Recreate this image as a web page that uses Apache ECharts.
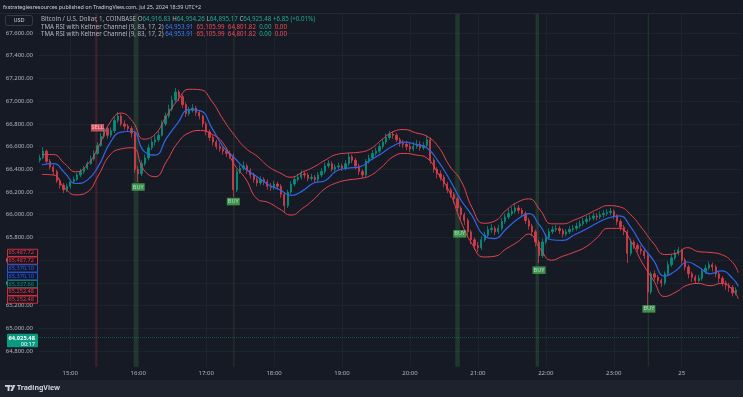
<!DOCTYPE html>
<html>
<head>
<meta charset="utf-8">
<script src="https://cdn.jsdelivr.net/npm/echarts@6/dist/echarts.min.js"></script>
<style>
  html, body { margin: 0; padding: 0; background: #161a25; }
  #chart { width: 743px; height: 397px; }
</style>
</head>
<body>
<div id="chart"></div>
<script>
const candleStart = '14:33'
const candleStep = 3
const firstOpen = 66480

const closes = [
  66500,66560,66470,66420,66380,66300,66260,66220,66250,66290,
  66310,66350,66380,66410,66450,66490,66540,66610,66690,66760,
  66700,66740,66830,66870,66800,66780,66760,66720,66400,66360,
  66450,66500,66590,66640,66660,66700,66800,66870,66930,67010,
  67080,67040,66970,66890,66920,66940,66900,66870,66800,66730,
  66680,66640,66600,66580,66560,66540,66520,66220,66380,66410,
  66430,66390,66350,66310,66280,66310,66290,66250,66240,66270,
  66250,66180,66080,66200,66270,66310,66330,66360,66350,66320,
  66330,66310,66350,66380,66430,66450,66400,66420,66430,66410,
  66450,66510,66480,66430,66380,66350,66470,66500,66540,66560,
  66600,66640,66680,66710,66700,66660,66630,66620,66600,66580,
  66600,66620,66590,66610,66660,66480,66400,66360,66330,66270,
  66220,66180,66140,66060,66000,65950,65850,65780,65730,65710,
  65780,65820,65870,65880,65850,65880,65940,65980,66010,66030,
  66060,66040,66010,65950,65900,65850,65760,65640,65760,65800,
  65850,65870,65880,65860,65830,65850,65870,65880,65900,65920,
  65940,65960,65970,65990,65980,66000,66010,66020,66030,65990,
  65940,65890,65850,65660,65760,65730,65700,65680,65640,65320,
  65480,65450,65420,65400,65480,65560,65620,65660,65690,65600,
  65540,65480,65450,65420,65440,65500,65530,65560,65540,65480,
  65440,65400,65380,65360,65310,65338
]
const highs = [
  66530,66595,66575,66490,66440,66395,66320,66280,66275,66310,
  66335,66370,66405,66430,66470,66520,66570,66640,66720,66800,
  66780,66770,66860,66905,66890,66830,66800,66780,66740,66430,
  66480,66530,66620,66670,66700,66740,66830,66900,66970,67050,
  67116,67100,67060,66990,66950,66975,66960,66920,66880,66820,
  66750,66700,66660,66630,66600,66580,66565,66540,66400,66440,
  66470,66450,66410,66370,66330,66340,66330,66310,66280,66300,
  66290,66270,66200,66220,66295,66340,66360,66390,66380,66370,
  66360,66350,66375,66410,66460,66480,66470,66445,66460,66450,
  66480,66543,66530,66500,66450,66400,66490,66530,66570,66590,
  66630,66670,66715,66740,66735,66720,66680,66660,66650,66630,
  66640,66660,66650,66640,66700,66680,66500,66420,66390,66350,
  66290,66240,66200,66160,66080,66020,65970,65870,65800,65760,
  65810,65850,65900,65920,65900,65910,65970,66010,66050,66070,
  66103,66085,66060,66030,65970,65920,65870,65780,65790,65830,
  65880,65900,65910,65900,65880,65875,65900,65910,65930,65950,
  65970,65990,66000,66020,66015,66030,66040,66050,66059,66045,
  66005,65960,65910,65870,65790,65780,65750,65730,65700,65660,
  65500,65510,65470,65440,65500,65590,65650,65690,65716,65700,
  65620,65560,65500,65470,65470,65530,65560,65590,65580,65560,
  65500,65460,65420,65400,65380,65360
]
const lows = [
  66460,66490,66450,66400,66350,66280,66230,66190,66200,66230,
  66270,66300,66330,66360,66395,66440,66475,66530,66600,66670,
  66670,66680,66720,66810,66780,66750,66730,66680,66370,66288,
  66340,66430,66480,66570,66610,66640,66690,66780,66850,66910,
  66990,67000,66940,66860,66870,66900,66870,66840,66770,66700,
  66650,66610,66575,66555,66530,66510,66490,66156,66200,66360,
  66390,66360,66320,66280,66250,66260,66260,66220,66210,66220,
  66220,66150,66015,66060,66180,66250,66290,66310,66320,66295,
  66300,66285,66290,66330,66360,66410,66380,66380,66400,66385,
  66390,66430,66455,66400,66350,66320,66330,66450,66480,66520,
  66540,66580,66620,66660,66670,66640,66600,66590,66570,66555,
  66560,66580,66565,66570,66590,66450,66370,66320,66300,66240,
  66190,66150,66100,66030,65960,65910,65810,65740,65690,65672,
  65690,65760,65800,65840,65820,65830,65860,65920,65960,65990,
  66010,66010,65980,65920,65870,65810,65720,65575,65620,65740,
  65780,65830,65850,65830,65800,65810,65830,65850,65860,65880,
  65900,65920,65940,65950,65950,65960,65975,65990,65995,65960,
  65910,65860,65820,65575,65640,65700,65670,65650,65610,65187,
  65300,65420,65390,65364,65380,65460,65540,65600,65640,65570,
  65510,65440,65410,65390,65400,65420,65480,65510,65500,65450,
  65400,65370,65340,65320,65280,65290
]

// Keltner channel lines, one reading every 10 min from 14:35, last one at 00:50
const bandStart = '14:35'
const bandStep = 10
const bandEnd = '00:50'
const kcMiddle = [
  66440,66450,66370,66275,66305,66430,66630,66728,66735,66560,
  66525,66675,66810,66925,66915,66765,66600,66500,66400,66335,
  66265,66220,66170,66210,66280,66300,66385,66410,66420,66480,
  66540,66605,66640,66620,66587,66470,66310,66130,65990,65820,
  65790,65875,65960,66010,65900,65780,65775,65821,65870,65925,
  65971,65990,65890,65730,65600,65460,65510,65584,65540,65480,
  65505,65440,65370
]
const kcUpper = [
  66530,66530,66450,66378,66440,66600,66810,66895,66822,66665,
  66710,66870,67010,67105,67100,67000,66840,66700,66585,66515,
  66425,66370,66330,66375,66420,66480,66530,66543,66550,66580,
  66660,66730,66750,66722,66690,66600,66430,66300,66060,65925,
  65945,66040,66110,66140,66041,65920,65920,65953,65995,66045,
  66080,66070,66000,65880,65750,65650,65660,65710,65675,65668,
  65650,65580,65490
]
const kcLower = [
  66355,66350,66235,66175,66200,66350,66525,66580,66590,66394,
  66335,66470,66635,66722,66742,66710,66631,66440,66315,66140,
  66108,66050,65997,66055,66135,66230,66280,66306,66318,66345,
  66420,66510,66540,66527,66499,66360,66200,65940,65740,65628,
  65635,65700,65760,65830,65700,65600,65635,65670,65715,65795,
  65880,65880,65770,65580,65425,65280,65320,65380,65395,65375,
  65395,65340,65260
]

// signal labels and their background columns
const signalTimes = ['15:24', '16:00', '17:24', '20:44', '21:54', '23:31']
const signalPrices = [66766, 66244, 66116, 65832, 65512, 65171]
const signalTypes = ['SELL', 'BUY', 'BUY', 'BUY', 'BUY', 'BUY']
const columnFrom = ['15:22', '15:56', '17:24', '20:40', '21:51', '23:30']
const columnTo = ['15:24', '16:00', '17:25', '20:44', '21:54', '23:31']

const yTicks = [64800,65000,65200,65400,65600,65800,66000,66200,66400,66600,66800,67000,67200,67400,67600]
const xTicks = ['15:00','16:00','17:00','18:00','19:00','20:00','21:00','22:00','23:00','00:00']

// price tags on the axis (value, colour) and last price
const axisTags = [
  [65487.72, '#f23645'], [65487.72, '#f23645'],
  [65370.10, '#2962ff'], [65370.10, '#2962ff'],
  [65337.66, '#089981'],
  [65252.48, '#f23645'], [65252.48, '#f23645']
]
const lastPrice = 64925.48
const countdown = '00:17'

const headerText = 'fxstrategiesresources published on TradingView.com, Jul 25, 2024 18:39 UTC+2'
const symbolName = 'Bitcoin / U.S. Dollar, 1, COINBASE'
const ohlcLegend = [['O', '64,916.83'], ['H', '64,954.26'], ['L', '64,895.17'], ['C', '64,925.48']]
const changeText = '+6.85 (+0.01%)'
const studyName = 'TMA RSI with Keltner Channel (9, 83, 17, 2)'
const studyValues = [['64,953.91', 'b'], ['65,105.99', 'r'], ['64,801.82', 'r'], ['0.00', 'v'], ['0.00', 'r']]

// minutes after 14:00 on the 24th
const toMin = s => {
  const [h, m] = s.split(':').map(Number)
  return (h < 12 ? h + 24 : h) * 60 + m - 14 * 60
}
const fmtPrice = v => v.toFixed(2).replace(/\B(?=(\d{3})+(?!\d))/g, ',')

const FONT = '"Noto Sans", "Liberation Sans", sans-serif'
const GREEN = '#089981'
const RED = '#f23645'
const TXT = '#b2b5be'

const t0 = toMin(candleStart)
const candleData = closes.map((c, i) => [t0 + i * candleStep, i === 0 ? firstOpen : closes[i - 1], c, lows[i], highs[i]])

const b0 = toMin(bandStart)
const bandT = kcMiddle.map((_, i) => i === kcMiddle.length - 1 ? toMin(bandEnd) : b0 + i * bandStep)
const line = arr => arr.map((v, i) => [bandT[i], v])

const signalData = signalTimes.map((t, i) => {
  const sell = signalTypes[i] === 'SELL'
  return {
    name: signalTypes[i],
    value: [toMin(t), signalPrices[i]],
    itemStyle: { color: sell ? '#f0606e' : '#4caf50' },
    label: { color: sell ? '#ffe3e6' : '#c4ecff' }
  }
})

const columns = columnFrom.map((f, i) => [
  { xAxis: toMin(f), itemStyle: { color: signalTypes[i] === 'SELL' ? 'rgba(242,54,69,0.2)' : 'rgba(76,175,80,0.2)' } },
  { xAxis: toMin(columnTo[i]) }
])

const chart = echarts.init(document.getElementById('chart'))

chart.setOption({
  animation: false,
  backgroundColor: '#161a25',
  textStyle: { fontFamily: FONT },
  grid: { left: 38, right: 3, top: 13.5, bottom: 30.3 },
  xAxis: {
    type: 'value',
    min: 31.5,
    max: 651.5,
    axisLine: { show: false },
    axisTick: { show: false, customValues: xTicks.map(toMin) },
    splitLine: { show: true, lineStyle: { color: '#1e222d', width: 1 } },
    axisLabel: {
      customValues: xTicks.map(toMin),
      color: TXT,
      fontSize: 6,
      margin: 4,
      formatter: v => {
        const h = Math.floor(v / 60) + 14
        return h === 24 ? '25' : String(h).padStart(2, '0') + ':00'
      }
    }
  },
  yAxis: {
    type: 'value',
    position: 'left',
    min: 64662,
    max: 67772,
    axisLine: { show: false },
    axisTick: { show: false, customValues: yTicks },
    splitLine: { show: true, lineStyle: { color: '#1e222d', width: 1 } },
    axisLabel: { customValues: yTicks, color: TXT, fontSize: 6, margin: 5, formatter: fmtPrice }
  },
  series: [
    {
      type: 'candlestick',
      data: candleData,
      encode: { x: 0, y: [1, 2, 3, 4] },
      barWidth: 1.8,
      itemStyle: { color: GREEN, color0: '#e2404e', borderColor: GREEN, borderColor0: '#e2404e', borderWidth: 0.8, opacity: 0.9 },
      markArea: { silent: true, data: columns },
      markLine: {
        silent: true,
        symbol: ['none', 'none'],
        label: { show: false },
        lineStyle: { color: 'rgba(8,153,129,0.45)', type: 'dotted', width: 1 },
        data: [{ yAxis: lastPrice }]
      }
    },
    {
      type: 'line', data: line(kcUpper), smooth: 0.5, showSymbol: false,
      lineStyle: { color: '#e5434f', width: 1 }
    },
    {
      type: 'line', data: line(kcMiddle), smooth: 0.5, showSymbol: false,
      lineStyle: { color: '#2e66e8', width: 1.2 }
    },
    {
      type: 'line', data: line(kcLower), smooth: 0.5, showSymbol: false,
      lineStyle: { color: '#e5434f', width: 1 }
    },
    {
      type: 'scatter',
      data: signalData,
      symbol: 'rect',
      symbolSize: [13, 7.5],
      z: 5,
      label: { show: true, position: 'inside', formatter: '{b}', fontSize: 5.6, fontFamily: FONT }
    }
  ]
})

// header, legend and axis tags drawn on top
const tok = (fill) => ({ fill, fontSize: 6.2, fontFamily: FONT })
const legend1 = '{g|' + symbolName + '} ' +
  ohlcLegend.map(p => '{g|' + p[0] + '}{v|' + p[1] + '}').join(' ') + ' {v|' + changeText + '}'
const legend2 = '{g|' + studyName + '} ' + studyValues.map(p => '{' + p[1] + '|' + p[0] + '}').join('  ')
const rich = { g: tok(TXT), v: tok('#22ab94'), b: tok('#3b7cf5'), r: tok('#f04b57') }

const graphics = [
  { type: 'rect', z: 50, shape: { x: 0, y: 380, width: 743, height: 17 }, style: { fill: '#1e222d' } },
  { type: 'line', z: 50, shape: { x1: 0, y1: 13.5, x2: 743, y2: 13.5 }, style: { stroke: '#232734', lineWidth: 1 } },
  { type: 'text', z: 50, style: { x: 3, y: 7, text: headerText, fill: '#d1d4dc', fontSize: 5.4, fontFamily: FONT, verticalAlign: 'middle' } },
  { type: 'text', z: 50, style: { x: 41, y: 19.5, text: legend1, rich, fontSize: 6.2, fontFamily: FONT, verticalAlign: 'middle' } },
  { type: 'text', z: 50, style: { x: 41, y: 27, text: legend2, rich, fontSize: 6.2, fontFamily: FONT, verticalAlign: 'middle' } },
  { type: 'text', z: 50, style: { x: 41, y: 34.5, text: legend2, rich, fontSize: 6.2, fontFamily: FONT, verticalAlign: 'middle' } },
  { type: 'rect', z: 50, shape: { x: 5.5, y: 15.5, width: 27, height: 10, r: 2 }, style: { fill: '#161a25', stroke: '#363a45', lineWidth: 1 } },
  { type: 'text', z: 51, style: { x: 19, y: 20.5, text: 'USD', fill: '#d1d4dc', fontSize: 5.6, fontFamily: FONT, align: 'center', verticalAlign: 'middle' } },
  // TradingView logo mark
  { type: 'rect', z: 51, shape: { x: 5, y: 385, width: 5.5, height: 1.8 }, style: { fill: '#d1d4dc' } },
  { type: 'rect', z: 51, shape: { x: 7.6, y: 385, width: 1.9, height: 6 }, style: { fill: '#d1d4dc' } },
  { type: 'circle', z: 51, shape: { cx: 11.6, cy: 386.1, r: 1.1 }, style: { fill: '#d1d4dc' } },
  { type: 'polygon', z: 51, shape: { points: [[13.2, 385], [15.4, 385], [12.6, 391], [10.4, 391]] }, style: { fill: '#d1d4dc' } },
  { type: 'text', z: 51, style: { x: 17, y: 388.2, text: 'TradingView', fill: '#d1d4dc', fontSize: 7, fontWeight: 'bold', fontFamily: FONT, verticalAlign: 'middle' } }
]

// stack the axis tags upward from the lowest one, like the platform does
const tagY = axisTags.map(t => chart.convertToPixel({ yAxisIndex: 0 }, t[0]))
for (let i = tagY.length - 2; i >= 0; i--) tagY[i] = Math.min(tagY[i], tagY[i + 1] - 7.8)
axisTags.forEach((t, i) => {
  graphics.push({ type: 'rect', z: 60, shape: { x: 7.5, y: tagY[i] - 3.6, width: 30, height: 7.2 }, style: { fill: '#131722', stroke: t[1], lineWidth: 0.8 } })
  graphics.push({ type: 'text', z: 61, style: { x: 34, y: tagY[i], text: fmtPrice(t[0]), fill: t[1], fontSize: 5.6, fontFamily: FONT, align: 'right', verticalAlign: 'middle' } })
})

const py = chart.convertToPixel({ yAxisIndex: 0 }, lastPrice)
graphics.push({ type: 'rect', z: 60, shape: { x: 7, y: py - 3, width: 31, height: 13.5, r: 1 }, style: { fill: GREEN } })
graphics.push({ type: 'text', z: 61, style: { x: 35, y: py + 1.4, text: fmtPrice(lastPrice), fill: '#ffffff', fontSize: 5.8, fontWeight: 'bold', fontFamily: FONT, align: 'right', verticalAlign: 'middle' } })
graphics.push({ type: 'text', z: 61, style: { x: 35, y: py + 7.6, text: countdown, fill: '#ffffff', fontSize: 5.6, fontFamily: FONT, align: 'right', verticalAlign: 'middle' } })

chart.setOption({ graphic: graphics })
</script>
</body>
</html>
